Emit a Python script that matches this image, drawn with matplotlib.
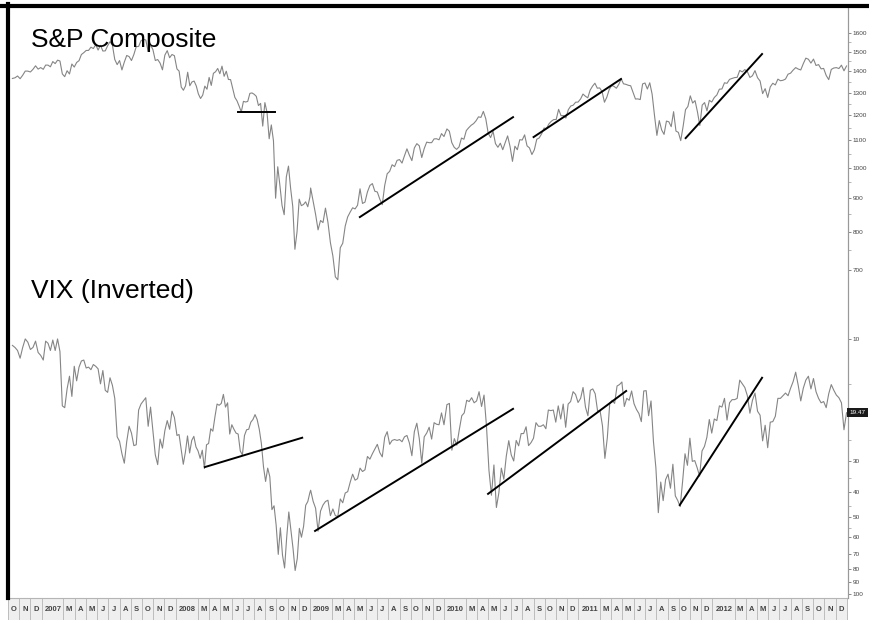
"""
S&P Composite vs VIX (inverted), weekly closes Oct 2006 - Dec 2012
"""
import numpy as np
import pandas as pd
import matplotlib
matplotlib.use("Agg")
import matplotlib.pyplot as plt
import matplotlib.dates as mdates
from matplotlib import font_manager
from matplotlib.ticker import FixedLocator, NullFormatter
from matplotlib.patches import Rectangle
from matplotlib.lines import Line2D
from matplotlib.transforms import blended_transform_factory

plt.rcParams['font.family'] = ['Liberation Sans', 'DejaVu Sans']

# first / last date of each yearly block of weekly closes
year_spans = [("2006-10-13", "2006-12-29"), ("2007-01-05", "2007-12-28"),
              ("2008-01-04", "2008-12-31"), ("2009-01-02", "2009-12-31"),
              ("2010-01-08", "2010-12-31"), ("2011-01-07", "2011-12-30"),
              ("2012-01-06", "2012-12-31")]

spx_2006 = [1365.6, 1368.6, 1377.3, 1364.3, 1380.9, 1401.2, 1400.9, 1396.7, 1409.8, 1427.1, 1410.8, 1418.3]
spx_2007 = [1409.7, 1430.7, 1430.5, 1422.2, 1448.4, 1438.1, 1455.5, 1451.2, 1387.2, 1374.1, 1402.8, 1386.9,
            1436.1, 1420.9, 1443.8, 1452.9, 1484.4, 1494.1, 1505.6, 1505.9, 1522.8, 1515.7, 1536.3, 1507.7,
            1532.9, 1502.6, 1503.4, 1530.4, 1552.5, 1534.1, 1458.9, 1433.1, 1453.6, 1406.7, 1445.9, 1479.4,
            1473.9, 1453.6, 1484.3, 1525.8, 1526.8, 1557.6, 1565.2, 1561.8, 1500.6, 1535.3, 1509.7, 1453.7,
            1458.7, 1440.7, 1407.2, 1481.1, 1504.7, 1467.9, 1484.5, 1478.5]
spx_2008 = [1411.6, 1401.0, 1325.2, 1310.5, 1330.6, 1395.4, 1331.3, 1349.0, 1353.1, 1330.6, 1293.4, 1273.4,
            1288.1, 1329.5, 1315.2, 1370.4, 1332.8, 1390.3, 1397.8, 1413.9, 1388.3, 1425.4, 1375.9, 1400.4,
            1360.7, 1360.0, 1317.9, 1278.4, 1262.9, 1239.5, 1214.9, 1260.7, 1257.8, 1260.3, 1296.3, 1298.2,
            1292.2, 1282.8, 1242.3, 1251.7, 1156.4, 1255.1, 1213.3, 1106.4, 1161.1, 1099.2, 899.2, 1003.4,
            940.6, 876.8, 848.9, 968.8, 1005.8, 930.9, 873.3, 752.4, 800.0, 896.2, 876.1, 879.7, 887.9,
            872.8, 903.3]
spx_2009 = [931.8, 890.4, 850.1, 805.2, 831.95, 825.9, 868.6, 826.8, 770.05, 735.1, 683.4, 676.5, 756.6,
            768.5, 815.9, 842.5, 856.6, 869.6, 866.2, 877.5, 929.2, 882.9, 887.0, 919.1, 940.1, 946.2, 921.2,
            918.9, 896.4, 879.1, 940.4, 979.3, 987.5, 1010.5, 1004.1, 1026.1, 1028.9, 1016.4, 1042.7, 1068.3,
            1044.4, 1025.2, 1071.5, 1087.7, 1079.6, 1036.2, 1069.3, 1093.5, 1091.4, 1091.5, 1106.0, 1106.4,
            1102.5, 1126.5, 1115.1]
spx_2010 = [1145.0, 1136.0, 1091.8, 1073.9, 1066.2, 1075.5, 1109.2, 1104.5, 1138.7, 1150.0, 1159.9, 1166.6,
            1178.1, 1194.4, 1192.1, 1217.3, 1186.7, 1128.2, 1110.9, 1135.7, 1087.7, 1074.0, 1089.4, 1064.9,
            1091.6, 1117.5, 1076.8, 1022.6, 1078.0, 1064.9, 1102.7, 1101.6, 1121.6, 1079.3, 1071.7, 1047.2,
            1064.6, 1104.5, 1109.6, 1125.6, 1148.7, 1146.2, 1165.2, 1176.2, 1183.1, 1183.3, 1225.9, 1199.2,
            1199.7, 1189.4, 1224.7, 1240.4, 1243.9, 1256.8, 1257.6]
spx_2011 = [1271.5, 1293.2, 1283.4, 1276.3, 1310.9, 1329.2, 1343.0, 1319.9, 1321.2, 1304.3, 1256.9, 1279.2,
            1313.8, 1332.4, 1328.2, 1319.7, 1337.4, 1363.6, 1340.2, 1337.8, 1333.3, 1331.1, 1300.2, 1271.0,
            1271.5, 1268.5, 1339.7, 1344.0, 1316.1, 1345.0, 1292.3, 1199.4, 1119.5, 1178.8, 1140.7, 1123.5,
            1176.8, 1174.0, 1154.2, 1216.0, 1136.4, 1131.4, 1099.2, 1155.5, 1224.6, 1238.3, 1285.1, 1253.2,
            1263.9, 1215.7, 1158.7, 1244.3, 1255.2, 1219.7, 1265.3, 1257.6]
spx_2012 = [1277.8, 1289.1, 1315.4, 1316.3, 1344.9, 1342.6, 1361.2, 1365.7, 1369.6, 1370.9, 1404.2, 1397.1,
            1408.5, 1398.1, 1370.3, 1378.5, 1403.4, 1369.1, 1353.4, 1295.2, 1317.8, 1278.0, 1325.7, 1342.8,
            1335.0, 1362.2, 1354.7, 1356.8, 1362.7, 1386.0, 1391.0, 1405.9, 1418.2, 1411.1, 1406.6, 1437.9,
            1465.8, 1460.2, 1440.7, 1460.9, 1428.6, 1433.2, 1411.9, 1414.2, 1379.9, 1359.9, 1409.2, 1416.2,
            1418.1, 1413.6, 1430.2, 1402.4, 1426.2]

vix_2006 = [10.6, 10.8, 11.1, 11.9, 10.8, 10.0, 10.3, 11.0, 10.8, 10.2, 11.3, 11.6]
vix_2007 = [12.1, 10.2, 10.4, 11.1, 10.1, 11.1, 10.0, 11.2, 18.3, 18.6, 15.7, 14.0, 16.8, 12.8, 14.6, 12.9,
            12.2, 12.1, 13.0, 12.9, 13.2, 12.6, 12.8, 13.1, 15.0, 13.3, 15.9, 16.2, 14.2, 15.2, 17.1, 24.2,
            25.2, 28.2, 30.7, 25.3, 22.0, 23.4, 26.2, 26.0, 19.0, 18.0, 17.5, 17.0, 22.0, 18.5, 23.0, 28.5,
            31.1, 24.7, 26.8, 22.9, 20.9, 22.6, 19.2, 20.3]
vix_2008 = [23.9, 23.7, 27.2, 31.0, 27.8, 24.0, 28.0, 25.0, 24.1, 26.5, 27.5, 29.4, 27.3, 32.2, 26.0, 25.7,
            22.5, 23.0, 20.2, 18.0, 18.2, 17.9, 16.5, 18.5, 17.8, 23.6, 21.7, 22.6, 23.4, 23.6, 27.5, 28.5,
            23.9, 22.7, 22.6, 21.2, 20.7, 19.8, 20.7, 22.6, 25.7, 31.7, 36.2, 32.1, 34.7, 46.7, 45.1, 53.7,
            69.95, 55.0, 70.3, 79.1, 59.9, 47.7, 56.1, 66.3, 80.9, 72.7, 55.3, 59.9, 54.3, 44.9, 43.4, 40.0]
vix_2009 = [39.2, 43.3, 46.1, 56.7, 47.3, 44.8, 43.4, 42.9, 49.3, 46.4, 49.3, 49.7, 42.4, 43.9, 40.2, 39.7,
            36.5, 33.9, 35.8, 35.3, 32.1, 33.1, 32.6, 28.9, 29.6, 28.2, 27.0, 25.9, 27.9, 29.0, 24.3, 23.1,
            25.9, 25.0, 24.8, 25.0, 24.8, 25.3, 24.2, 23.9, 25.6, 28.7, 23.1, 21.4, 24.6, 30.7, 24.2, 23.4,
            22.2, 24.7, 21.3, 21.6, 21.7, 19.5, 21.7]
vix_2010 = [18.1, 17.9, 27.3, 24.6, 26.1, 22.7, 20.0, 19.5, 17.4, 17.6, 17.0, 17.8, 17.5, 16.1, 18.4, 16.6,
            22.05, 32.8, 41.0, 31.2, 45.8, 40.1, 32.1, 35.5, 28.8, 25.05, 28.5, 30.1, 25.0, 26.25, 23.5, 23.5,
            22.1, 26.2, 25.5, 24.5, 21.3, 22.0, 22.0, 21.7, 22.5, 19.0, 19.1, 19.0, 21.2, 18.3, 20.6, 18.0,
            22.2, 18.0, 17.6, 16.1, 16.5, 17.75]
vix_2011 = [17.1, 15.5, 18.5, 20.0, 15.9, 15.7, 16.4, 19.2, 19.1, 21.9, 29.4, 24.4, 17.9, 17.4, 17.9, 15.3,
            15.1, 14.75, 18.4, 17.1, 17.4, 16.0, 17.95, 18.9, 19.6, 21.1, 16.0, 15.95, 20.0, 17.5, 25.25, 32.0,
            48.0, 36.4, 43.05, 35.6, 33.9, 38.5, 31.0, 41.25, 43.0, 45.45, 36.2, 28.2, 31.3, 24.5, 30.2, 30.0,
            32.0, 34.5, 27.5, 26.4, 24.3, 20.7, 23.4]
vix_2012 = [20.6, 20.9, 18.3, 18.5, 17.1, 20.8, 17.8, 17.3, 17.3, 17.1, 14.5, 15.0, 15.5, 16.7, 19.55, 17.4,
            16.3, 19.2, 19.9, 25.1, 21.8, 26.7, 21.2, 21.1, 20.1, 17.1, 17.1, 16.7, 16.3, 16.7, 15.6, 14.7,
            13.5, 15.2, 17.5, 15.6, 14.5, 14.0, 15.7, 14.3, 16.1, 17.1, 17.8, 17.6, 18.6, 16.4, 15.1, 15.9,
            16.6, 17.0, 17.8, 22.7, 19.47]

# hand-drawn trendlines: (start date, value), (end date, value)
spx_trends = [(("2008-06-19", 1216), ("2008-09-27", 1216)),
              (("2009-05-16", 842), ("2010-07-07", 1193)),
              (("2010-09-01", 1113), ("2011-04-27", 1363)),
              (("2011-10-20", 1109), ("2012-05-15", 1487))]
vix_trends = [(("2008-03-20", 31.8), ("2008-12-10", 24.4)),
              (("2009-01-14", 56.6), ("2010-07-07", 18.8)),
              (("2010-04-30", 40.5), ("2011-05-11", 16.0)),
              (("2011-10-04", 44.8), ("2012-05-15", 14.2))]

spx_ticks = [700, 800, 900, 1000, 1100, 1200, 1300, 1400, 1500, 1600]
vix_ticks = [10, 20, 30, 40, 50, 60, 70, 80, 90, 100]
month_letters = ["J", "F", "M", "A", "M", "J", "J", "A", "S", "O", "N", "D"]


def build(blocks):
    dates, vals = [], []
    for (start, end), v in zip(year_spans, blocks):
        dates.extend(pd.date_range(start, end, periods=len(v)))
        vals.extend(v)
    return mdates.date2num(pd.DatetimeIndex(dates).to_pydatetime()), np.array(vals)


def num(d):
    return mdates.date2num(pd.Timestamp(d).to_pydatetime())


def narrow_font():
    try:
        font_manager.findfont("Liberation Sans Narrow", fallback_to_default=False)
        return "Liberation Sans Narrow", 5.5
    except Exception:
        return "Liberation Sans", 4.6


tick_family, tick_size = narrow_font()

W, H = 869, 620
fig = plt.figure(figsize=(W / 100, H / 100), dpi=100)
ax = fig.add_axes([8 / W, 22 / H, 840 / W, 590 / H])
ax2 = ax.twinx()

spx_x, spx_y = build([spx_2006, spx_2007, spx_2008, spx_2009, spx_2010, spx_2011, spx_2012])
vix_x, vix_y = build([vix_2006, vix_2007, vix_2008, vix_2009, vix_2010, vix_2011, vix_2012])

ax.plot(spx_x, spx_y, color="#858585", lw=0.8)
ax2.plot(vix_x, vix_y, color="#858585", lw=0.8)
for (d0, v0), (d1, v1) in spx_trends:
    ax.plot([num(d0), num(d1)], [v0, v1], color="black", lw=1.4)
for (d0, v0), (d1, v1) in vix_trends:
    ax2.plot([num(d0), num(d1)], [v0, v1], color="black", lw=1.4)

ax.set_yscale("log")
ax.set_ylim(222.9, 1746)
ax2.set_yscale("log")
ax2.set_ylim(103.7, 0.504)
ax.set_xlim(num("2006-10-14"), num("2013-01-04"))

# right-hand scales
ax.yaxis.set_ticks_position("right")
ax.set_yticks(spx_ticks)
ax.set_yticklabels([str(t) for t in spx_ticks])
ax.yaxis.set_minor_locator(FixedLocator([t + 50 for t in spx_ticks[:-1]]))
ax.yaxis.set_minor_formatter(NullFormatter())
ax2.set_yticks(vix_ticks)
ax2.set_yticklabels(["" if t == 20 else str(t) for t in vix_ticks])
ax2.yaxis.set_minor_locator(FixedLocator([15, 25, 35, 45, 55]))
ax2.yaxis.set_minor_formatter(NullFormatter())
for a in (ax, ax2):
    a.tick_params(axis="y", which="major", length=2.5, width=0.6, color="#777777",
                  labelsize=tick_size, labelcolor="#444444", pad=1)
    a.tick_params(axis="y", which="minor", length=1.8, width=0.5, color="#999999")
    for lbl in a.get_yticklabels():
        lbl.set_family(tick_family)

# month strip along the bottom
months = pd.date_range("2006-10-01", "2013-01-01", freq="MS")
seps = [num(m) for m in months if m.month != 2]
lab_pos, lab_txt = [], []
for m in months[:-1]:
    if m.month == 1:
        lab_pos.append(num(m + pd.DateOffset(months=1)))
        lab_txt.append(str(m.year))
    elif m.month != 2:
        lab_pos.append(num(m + pd.Timedelta(days=15)))
        lab_txt.append(month_letters[m.month - 1])
ax.set_xticks(seps)
ax.xaxis.set_major_formatter(NullFormatter())
ax.set_xticks(lab_pos, minor=True)
ax.set_xticklabels(lab_txt, minor=True)
ax.tick_params(axis="x", which="major", length=15.8, width=0.6, color="#b5b5b5", direction="out")
ax.tick_params(axis="x", which="minor", length=0, pad=5.5, labelsize=5.5, labelcolor="#444444")
for lbl in ax.get_xticklabels(minor=True):
    lbl.set_fontweight("bold")
ax.add_patch(Rectangle((0, -22 / 590), 1, 22 / 590, transform=ax.transAxes, clip_on=False,
                       facecolor="#efefef", edgecolor="none", zorder=0))

for a in (ax, ax2):
    a.spines["top"].set_visible(False)
    a.spines["left"].set_visible(False)
    a.spines["right"].set_color("#999999")
    a.spines["right"].set_linewidth(0.8)
ax.spines["bottom"].set_color("#b5b5b5")
ax.spines["bottom"].set_linewidth(0.8)
ax2.spines["bottom"].set_visible(False)

# heavy frame on top and left
fig.add_artist(Line2D([0, 1], [1 - 5.5 / H] * 2, transform=fig.transFigure, color="black", lw=3))
fig.add_artist(Line2D([8 / W] * 2, [1 - 4 / H, 22 / H], transform=fig.transFigure, color="black", lw=3))

# last value tag on the VIX scale
ax2.text(1.002, vix_2012[-1], f"{vix_2012[-1]:.2f}",
         transform=blended_transform_factory(ax2.transAxes, ax2.transData),
         fontsize=4.6, color="white", va="center", ha="left", clip_on=False, family=tick_family,
         bbox=dict(boxstyle="square,pad=0.35", facecolor="#1a1a1a", edgecolor="none"))

fig.text(31 / W, 1 - 47 / H, "S&P Composite", fontsize=19, va="baseline", ha="left")
fig.text(31 / W, 1 - 298 / H, "VIX (Inverted)", fontsize=19, va="baseline", ha="left")

fig.savefig("out.png", dpi=100)
